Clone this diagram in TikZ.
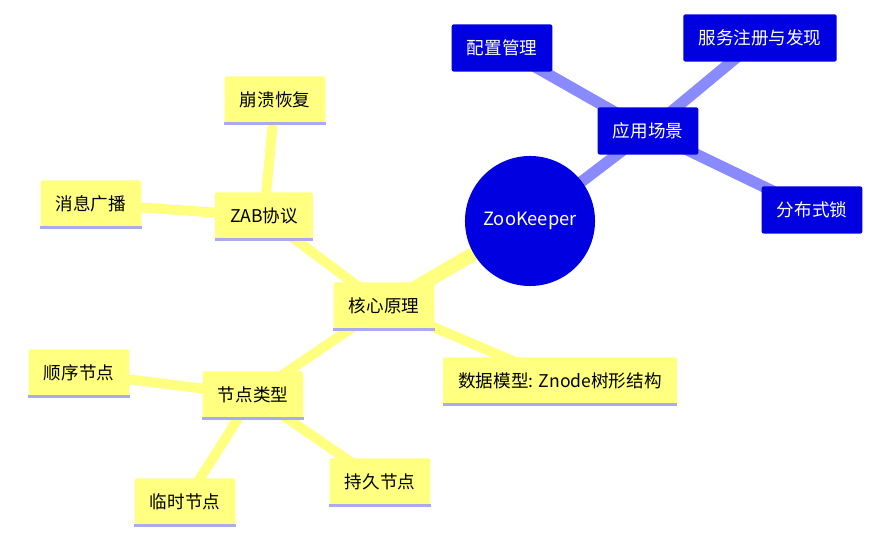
\documentclass[tikz,border=0pt]{standalone}
\usepackage{fontspec}
\setmainfont{Noto Sans CJK SC}
\usetikzlibrary{positioning}
\definecolor{rootblue}{HTML}{0000E0}
\definecolor{edgeblue}{HTML}{8A8AFF}
\definecolor{leafyellow}{HTML}{FFFF80}
\definecolor{underline}{HTML}{AAAAEE}
\begin{document}
\begin{tikzpicture}[x=0.025cm,y=-0.025cm]
\tikzset{bluebox/.style = {fill=rootblue, text=white, rounded corners=1.5pt, minimum height=1.18cm, inner xsep=0.38cm, font=\fontsize{12.5}{15}\selectfont}}
\tikzset{yellowbox/.style = {fill=leafyellow, text=black, rounded corners=1.5pt, minimum height=1.18cm, inner xsep=0.38cm, font=\fontsize{12.5}{15}\selectfont}}
\tikzset{blueedge/.style = {draw=edgeblue, line width=8pt}}
\tikzset{yellowedge/.style = {draw=leafyellow, line width=7pt}}

\useasboundingbox (0,0) rectangle (884,544);

% edges first
\coordinate (r) at (530,221);
\coordinate (app) at (648,131);
\draw[blueedge] (r) -- (app);
\draw[blueedge] (app) -- (502,48);
\draw[blueedge] (app) -- (760,38);
\draw[blueedge] (app) -- (812,210);

\coordinate (core) at (384,306);
\coordinate (zab) at (264,216);
\coordinate (type) at (253,395);
\draw[yellowedge, line width=10pt] (r) -- (core);
\draw[yellowedge] (core) -- (zab);
\draw[yellowedge] (zab) -- (275,100);
\draw[yellowedge] (zab) -- (91,204);
\draw[yellowedge] (core) -- (560,381);
\draw[yellowedge] (core) -- (type);
\draw[yellowedge] (type) -- (79,373);
\draw[yellowedge] (type) -- (185,502);
\draw[yellowedge] (type) -- (380,482);

% nodes
\node[circle, fill=rootblue, text=white, minimum size=3.25cm, font=\fontsize{13}{15}\selectfont] (root) at (r) {ZooKeeper};
\node[bluebox] (scene) at (app) {应用场景};
\node[bluebox] (config) at (502,48) {配置管理};
\node[bluebox] (registry) at (760,38) {服务注册与发现};
\node[bluebox] (lock) at (812,210) {分布式锁};

\node[yellowbox] (principle) at (core) {核心原理};
\node[yellowbox] (protocol) at (zab) {ZAB协议};
\node[yellowbox] (recover) at (275,100) {崩溃恢复};
\node[yellowbox] (broadcast) at (91,204) {消息广播};
\node[yellowbox] (model) at (560,381) {数据模型: Znode树形结构};
\node[yellowbox] (nodetype) at (type) {节点类型};
\node[yellowbox] (seq) at (79,373) {顺序节点};
\node[yellowbox] (temp) at (185,502) {临时节点};
\node[yellowbox] (persist) at (380,482) {持久节点};

\foreach \n in {principle, protocol, recover, broadcast, model, nodetype, seq, temp, persist}
  {\draw[underline, line width=2pt] (\n.south west) -- (\n.south east);}

\end{tikzpicture}
\end{document}
